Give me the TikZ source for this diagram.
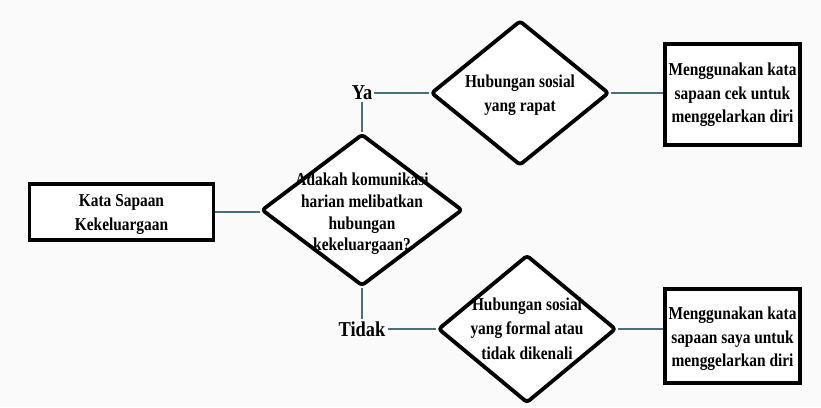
\documentclass[tikz,border=0pt]{standalone}
\usepackage{fontspec}
\setmainfont{Liberation Serif}
\usetikzlibrary{shapes.geometric}
\definecolor{bgc}{RGB}{250,250,250}
\definecolor{linkc}{RGB}{72,112,120}
\newcommand{\vtxt}[2][20]{\scalebox{1}[1.18]{\fontsize{15.4}{#1}\selectfont\bfseries\begin{tabular}{@{}c@{}}#2\end{tabular}}}
\newcommand{\vlbl}[1]{\scalebox{1}[1.15]{\fontsize{18.4}{20}\selectfont\bfseries #1}}
\begin{document}
\begin{tikzpicture}[x=1pt,y=-1pt,
  boxst/.style={draw=black,line width=3.8pt,fill=white,inner sep=0pt},
  diast/.style={draw=black,line width=3.8pt,fill=white,diamond,inner sep=0pt,line join=round,rounded corners=3pt},
  txt/.style={align=center,inner sep=0pt},
  lbl/.style={inner sep=2pt},
  link/.style={draw=linkc,line width=1.5pt}]
\fill[bgc] (0,0) rectangle (821,407);
\useasboundingbox (0,0) rectangle (821,407);
% nodes
\node[boxst,minimum width=184pt,minimum height=56pt] (b1) at (121.5,212) {};
\node[txt] (t1) at (121.5,213.5) {\vtxt{Kata Sapaan\\Kekeluargaan}};
\node[diast,minimum width=201pt,minimum height=152pt] (d1) at (362,210) {};
\node[txt] (t2) at (362,214) {\vtxt[18.4]{Adakah komunikasi\\harian melibatkan\\hubungan\\kekeluargaan?}};
\node[lbl] (ya) at (362,93) {\vlbl{Ya}};
\node[lbl] (tidak) at (362,329) {\vlbl{Tidak}};
\node[diast,minimum width=178pt,minimum height=145pt] (d2) at (520,93) {};
\node[txt] (t3) at (520,95) {\vtxt[20.3]{Hubungan sosial\\yang rapat}};
\node[diast,minimum width=178pt,minimum height=148pt] (d3) at (527,329) {};
\node[txt] (t4) at (527,330) {\vtxt[20.7]{Hubungan sosial\\yang formal atau\\tidak dikenali}};
\node[boxst,minimum width=135pt,minimum height=101pt] (b2) at (732.5,94.5) {};
\node[txt] (t5) at (732.5,94.5) {\vtxt{Menggunakan kata\\sapaan cek untuk\\menggelarkan diri}};
\node[boxst,minimum width=135pt,minimum height=94pt] (b3) at (732.5,336) {};
\node[txt] (t6) at (732.5,338.5) {\vtxt{Menggunakan kata\\sapaan saya untuk\\menggelarkan diri}};
% connectors
\draw[link] (b1.east) -- (b1.east -| d1.west);
\draw[link] (d1.north) -- (d1.north |- ya.south);
\draw[link] (ya.east |- d2.west) -- (d2.west);
\draw[link] (d2.east) -- (b2.west |- d2.east);
\draw[link] (d1.south) -- (d1.south |- tidak.north);
\draw[link] (tidak.east |- d3.west) -- (d3.west);
\draw[link] (d3.east) -- (b3.west |- d3.east);
\end{tikzpicture}
\end{document}
